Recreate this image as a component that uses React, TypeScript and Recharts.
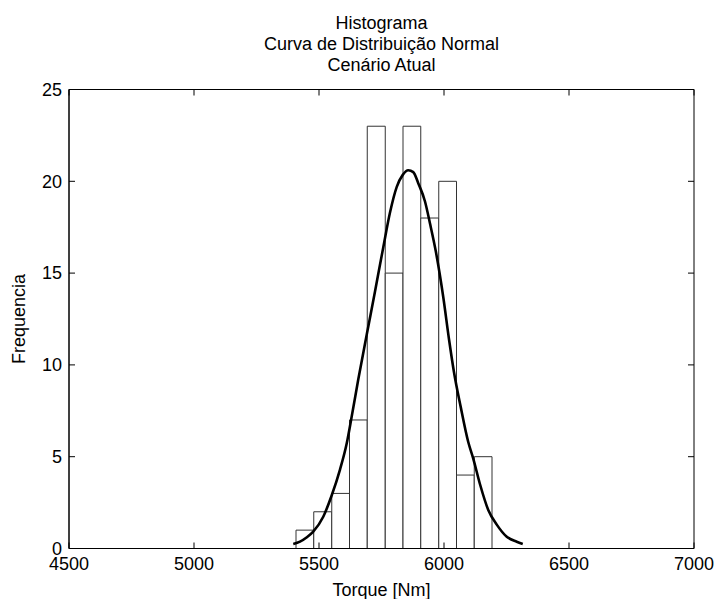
import React from 'react';
import { ComposedChart, XAxis, YAxis, Line, ReferenceArea } from 'recharts';

// histogram bins (edges in Nm) and counts
const binEdges = [5408, 5479, 5551, 5622, 5693, 5765, 5836, 5907, 5979, 6050, 6121, 6192];
const binCounts = [1, 2, 3, 7, 23, 15, 23, 18, 20, 4, 5];

// fitted normal curve
const curveTorque = [
  5397, 5424, 5450, 5477, 5517, 5551, 5584, 5611, 5631, 5657, 5691, 5724, 5757, 5784, 5811, 5835,
  5857, 5877, 5897, 5924, 5944, 5967, 5997, 6020, 6040, 6067, 6097, 6117, 6144, 6177, 6211, 6251,
  6291, 6315,
];
const curveFreq = [
  0.25, 0.37, 0.6, 0.92, 1.73, 2.9, 4.3, 5.73, 7.2, 9.2, 11.65, 14.0, 16.4, 18.3, 19.7, 20.35,
  20.6, 20.5, 19.9, 18.9, 17.7, 16.2, 13.7, 11.4, 9.6, 7.7, 5.8, 4.9, 3.5, 2.1, 1.3, 0.64,
  0.37, 0.25,
];

const xTicks = [4500, 5000, 5500, 6000, 6500, 7000];
const yTicks = [0, 5, 10, 15, 20, 25];

const curveData = curveTorque.map((x, i) => ({ x, y: curveFreq[i] }));

const FONT = "'Liberation Sans', Arial, Helvetica, sans-serif";
const W = 717;
const H = 599;
const M = { top: 89.5, right: 23, bottom: 0, left: 0 };
const Y_AXIS_W = 69;
const X_AXIS_H = 50.5;
const PLOT_TOP = M.top;
const PLOT_BOTTOM = H - M.bottom - X_AXIS_H;
const PLOT_LEFT = M.left + Y_AXIS_W;
const PLOT_RIGHT = W - M.right;
const TICK = 6;

// MATLAB-style ticks: pointing inward, on both sides of the box
const XTick = (props: any) => {
  const { x, payload } = props;
  return (
    <g>
      <line x1={x} x2={x} y1={PLOT_BOTTOM} y2={PLOT_BOTTOM - TICK} stroke="#000" />
      <line x1={x} x2={x} y1={PLOT_TOP} y2={PLOT_TOP + TICK} stroke="#000" />
      <text x={x} y={PLOT_BOTTOM + 9} dy="0.71em" textAnchor="middle" fill="#000" fontSize={18}>
        {payload.value}
      </text>
    </g>
  );
};

const YTick = (props: any) => {
  const { y, payload } = props;
  return (
    <g>
      <line x1={PLOT_LEFT} x2={PLOT_LEFT + TICK} y1={y} y2={y} stroke="#000" />
      <line x1={PLOT_RIGHT} x2={PLOT_RIGHT - TICK} y1={y} y2={y} stroke="#000" />
      <text x={PLOT_LEFT - 7} y={y} dy="0.355em" textAnchor="end" fill="#000" fontSize={18}>
        {payload.value}
      </text>
    </g>
  );
};

export default function App() {
  return (
    <div style={{ position: 'absolute', left: 0, top: 0, width: W, height: H, background: '#fff', fontFamily: FONT }}>
      <div
        style={{
          position: 'absolute',
          left: 0,
          width: PLOT_LEFT + PLOT_RIGHT,
          top: 12.5,
          textAlign: 'center',
          fontSize: 18,
          lineHeight: '21.3px',
          color: '#000',
        }}
      >
        <div>Histograma</div>
        <div>Curva de Distribuição Normal</div>
        <div>Cenário Atual</div>
      </div>
      <ComposedChart width={W} height={H} margin={M}>
        <XAxis
          type="number"
          dataKey="x"
          domain={[4500, 7000]}
          ticks={xTicks}
          allowDataOverflow
          height={X_AXIS_H}
          tick={<XTick />}
          tickLine={false}
          tickSize={0}
          tickMargin={0}
          axisLine={{ stroke: '#000' }}
          label={{ value: 'Torque [Nm]', position: 'insideBottom', offset: 3, fill: '#000', fontSize: 18 }}
        />
        <YAxis
          type="number"
          domain={[0, 25]}
          ticks={yTicks}
          allowDataOverflow
          width={Y_AXIS_W}
          tick={<YTick />}
          tickLine={false}
          tickSize={0}
          tickMargin={0}
          axisLine={{ stroke: '#000' }}
          label={{
            value: 'Frequencia',
            angle: -90,
            position: 'insideLeft',
            offset: 19,
            fill: '#000',
            fontSize: 18,
            style: { textAnchor: 'middle' },
          }}
        />
        {binCounts.map((c, i) => (
          <ReferenceArea
            key={i}
            x1={binEdges[i]}
            x2={binEdges[i + 1]}
            y1={0}
            y2={c}
            fill="#fff"
            fillOpacity={1}
            stroke="#333"
            strokeWidth={1}
          />
        ))}
        {/* axes box */}
        <ReferenceArea x1={4500} x2={7000} y1={0} y2={25} fill="none" stroke="#000" strokeWidth={1} />
        <Line
          data={curveData}
          dataKey="y"
          type="monotone"
          stroke="#000"
          strokeWidth={2.6}
          dot={false}
          isAnimationActive={false}
        />
      </ComposedChart>
    </div>
  );
}
